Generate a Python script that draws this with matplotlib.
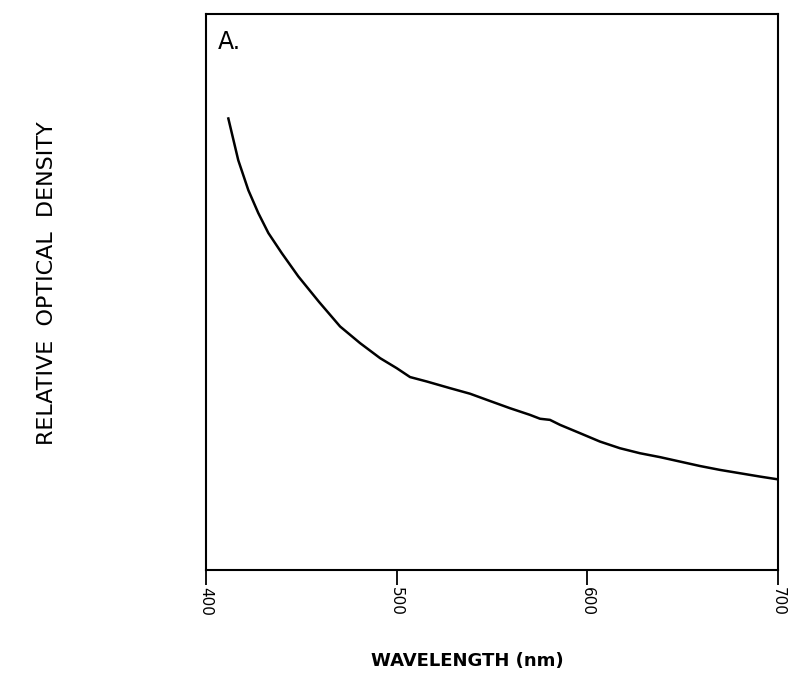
import matplotlib
matplotlib.use("Agg")
import matplotlib.pyplot as plt

# wavelength (nm) vs relative optical density
wavelength = [411.7, 416.9, 422.2, 427.4, 432.7, 439.7, 448.4, 459.3, 470.3, 480.8,
              491.3, 500.0, 507.0, 515.8, 528.0, 538.5, 548.9, 559.4, 569.9, 575.2,
              580.4, 585.7, 596.2, 606.6, 617.1, 627.6, 638.1, 648.6, 659.1, 669.6,
              680.1, 690.6, 700.0]
density = [0.812, 0.737, 0.683, 0.642, 0.606, 0.570, 0.528, 0.482, 0.438, 0.408,
           0.381, 0.363, 0.347, 0.339, 0.327, 0.317, 0.304, 0.291, 0.279, 0.272,
           0.270, 0.261, 0.246, 0.231, 0.219, 0.210, 0.203, 0.195, 0.187, 0.180,
           0.174, 0.168, 0.163]
xticks = [400, 500, 600, 700]

fig = plt.figure(figsize=(7.9, 6.74), dpi=100)
ax = fig.add_axes([0.2608, 0.1543, 0.724, 0.825])
ax.plot(wavelength, density, color="black", lw=1.8)

ax.set_xlim(400, 700)
ax.set_ylim(0, 1)
ax.set_xticks(xticks)
ax.set_xticklabels([str(t) for t in xticks], rotation=270, fontsize=11)
ax.tick_params(axis="x", direction="out", length=11, width=1.3, pad=1)
ax.set_yticks([])
for s in ax.spines.values():
    s.set_linewidth(1.5)

ax.text(0.02, 0.95, "A.", transform=ax.transAxes, fontsize=17, va="center")

fig.text(0.059, 0.58, "RELATIVE  OPTICAL  DENSITY", rotation=90,
         fontsize=16, ha="center", va="center")
fig.text(0.591, 0.02, "WAVELENGTH (nm)", fontsize=13, fontweight="bold",
         ha="center", va="center")

fig.savefig("out.png", dpi=100)
